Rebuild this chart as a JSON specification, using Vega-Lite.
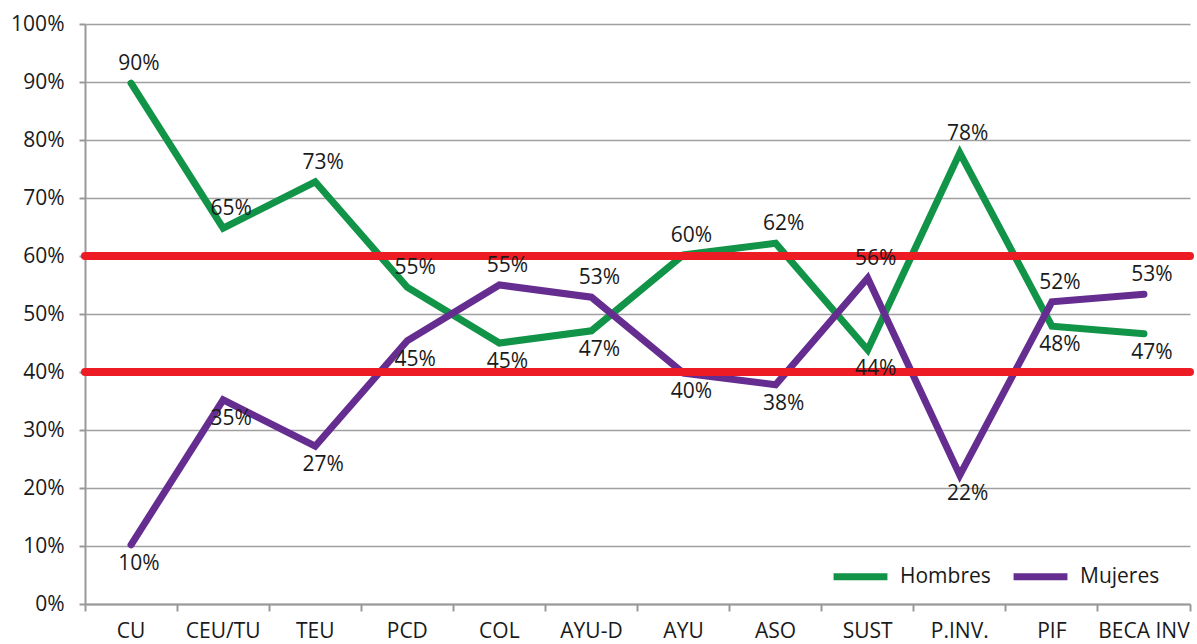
{
  "$schema": "https://vega.github.io/schema/vega-lite/v6.json",
  "width": 1105,
  "height": 580,
  "autosize": {"type": "none"},
  "padding": {"left": 85, "top": 24, "right": 7, "bottom": 40},
  "background": "white",
  "config": {
    "font": "Open Sans",
    "view": {"stroke": null},
    "axis": {"labelFont": "Open Sans", "labelFontSize": 21, "labelColor": "#1a1a1a", "title": null},
    "legend": {"labelFont": "Open Sans", "labelFontSize": 21, "labelColor": "#1a1a1a"}
  },
  "data": {
    "values": [
      {"cat": "CU", "serie": "Hombres", "value": 0.898},
      {"cat": "CEU/TU", "serie": "Hombres", "value": 0.648},
      {"cat": "TEU", "serie": "Hombres", "value": 0.728},
      {"cat": "PCD", "serie": "Hombres", "value": 0.546},
      {"cat": "COL", "serie": "Hombres", "value": 0.45},
      {"cat": "AYU-D", "serie": "Hombres", "value": 0.471},
      {"cat": "AYU", "serie": "Hombres", "value": 0.602},
      {"cat": "ASO", "serie": "Hombres", "value": 0.622},
      {"cat": "SUST", "serie": "Hombres", "value": 0.438},
      {"cat": "P.INV.", "serie": "Hombres", "value": 0.778},
      {"cat": "PIF", "serie": "Hombres", "value": 0.479},
      {"cat": "BECA INV", "serie": "Hombres", "value": 0.466},
      {"cat": "CU", "serie": "Mujeres", "value": 0.102},
      {"cat": "CEU/TU", "serie": "Mujeres", "value": 0.352},
      {"cat": "TEU", "serie": "Mujeres", "value": 0.272},
      {"cat": "PCD", "serie": "Mujeres", "value": 0.454},
      {"cat": "COL", "serie": "Mujeres", "value": 0.55},
      {"cat": "AYU-D", "serie": "Mujeres", "value": 0.529},
      {"cat": "AYU", "serie": "Mujeres", "value": 0.398},
      {"cat": "ASO", "serie": "Mujeres", "value": 0.378},
      {"cat": "SUST", "serie": "Mujeres", "value": 0.562},
      {"cat": "P.INV.", "serie": "Mujeres", "value": 0.222},
      {"cat": "PIF", "serie": "Mujeres", "value": 0.521},
      {"cat": "BECA INV", "serie": "Mujeres", "value": 0.534}
    ]
  },
  "encoding": {
    "x": {
      "field": "cat",
      "type": "nominal",
      "sort": ["CU", "CEU/TU", "TEU", "PCD", "COL", "AYU-D", "AYU", "ASO", "SUST", "P.INV.", "PIF", "BECA INV"],
      "scale": {"type": "band", "paddingInner": 0, "paddingOuter": 0},
      "bandPosition": 0.5,
      "axis": {
        "labelAngle": 0,
        "bandPosition": 1,
        "tickExtra": true,
        "domainColor": "#999999",
        "domainWidth": 2,
        "tickColor": "#999999",
        "tickWidth": 2,
        "tickSize": 7,
        "labelPadding": 9,
        "grid": false
      }
    },
    "y": {
      "field": "value",
      "type": "quantitative",
      "scale": {"domain": [0, 1], "nice": false},
      "axis": {
        "format": ".0%",
        "values": [0, 0.1, 0.2, 0.3, 0.4, 0.5, 0.6, 0.7, 0.8, 0.9, 1],
        "grid": true,
        "gridColor": "#a0a0a0",
        "gridWidth": 1.5,
        "domainColor": "#999999",
        "domainWidth": 2,
        "tickColor": "#999999",
        "tickWidth": 2,
        "tickSize": 6,
        "labelPadding": 15
      }
    }
  },
  "layer": [
    {
      "mark": {"type": "line", "strokeWidth": 7, "strokeCap": "round"},
      "encoding": {
        "color": {
          "field": "serie",
          "type": "nominal",
          "scale": {"domain": ["Hombres", "Mujeres"], "range": ["#119447", "#662d91"]},
          "legend": {
            "title": null,
            "orient": "none",
            "direction": "horizontal",
            "legendX": 745,
            "legendY": 522,
            "symbolType": "stroke",
            "symbolSize": 2900,
            "symbolStrokeWidth": 7,
            "labelOffset": 9,
            "columnPadding": 8
          }
        }
      }
    },
    {
      "data": {"values": [{"ref": 0.4}, {"ref": 0.6}]},
      "mark": {"type": "rule", "color": "#ed1c24", "strokeWidth": 8, "strokeCap": "round"},
      "encoding": {"y": {"field": "ref", "type": "quantitative"}, "x": null}
    },
    {
      "transform": [{"filter": "datum.value >= 0.5"}],
      "mark": {"type": "text", "fontSize": 21, "font": "Open Sans", "color": "#1a1a1a", "dy": -19, "dx": 8, "baseline": "middle"},
      "encoding": {"text": {"field": "value", "type": "quantitative", "format": ".0%"}}
    },
    {
      "transform": [{"filter": "datum.value < 0.5"}],
      "mark": {"type": "text", "fontSize": 21, "font": "Open Sans", "color": "#1a1a1a", "dy": 19, "dx": 8, "baseline": "middle"},
      "encoding": {"text": {"field": "value", "type": "quantitative", "format": ".0%"}}
    }
  ]
}
